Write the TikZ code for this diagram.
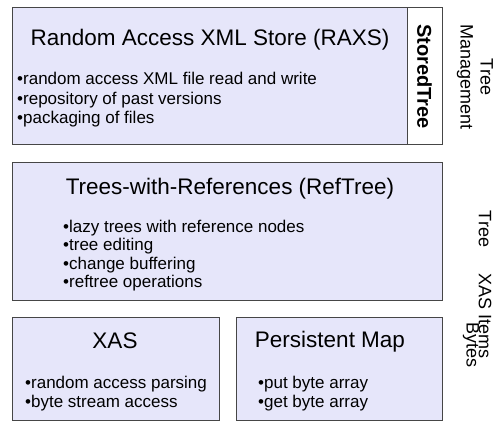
\documentclass[tikz,border=0pt]{standalone}
\usepackage{fontspec}
\setmainfont{Liberation Sans}
\usetikzlibrary{positioning}
\definecolor{layerfill}{RGB}{230,230,250}
\definecolor{layerline}{RGB}{70,70,70}
\tikzstyle{layer} = [rectangle, draw=layerline, fill=layerfill, line width=1pt,
    anchor=north west, inner sep=0pt, outer sep=0pt]
\tikzstyle{strip} = [layer, fill=white]
\tikzstyle{title} = [font=\fontsize{22.5}{26}\selectfont, inner sep=0pt, anchor=base]
% base of a multi-line node is its last line
\tikzstyle{items} = [font=\fontsize{17}{19.5}\selectfont, align=left, inner sep=0pt,
    anchor=base west]
\tikzstyle{side} = [font=\fontsize{18}{20}\selectfont, rotate=-90, align=center,
    inner sep=0pt]

\begin{document}
\begin{tikzpicture}[x=1pt, y=-1pt]
      \useasboundingbox (0,0) rectangle (496,422);
      % layers
      \node [layer, minimum width=395pt, minimum height=137pt] (raxs) at (12,8) {};
      \node [strip, right=0pt of raxs, minimum width=35pt, minimum height=137pt]
         (stored) {};
      \node [layer, minimum width=430pt, minimum height=138pt] (reftree) at (12,163) {};
      \node [layer, minimum width=207pt, minimum height=103pt] (xas) at (12,318) {};
      \node [layer, minimum width=206pt, minimum height=103pt] (pmap) at (236,318) {};

      % texts
      \node [font=\bfseries\fontsize{20}{22}\selectfont, rotate=-90, inner sep=0pt]
         (storedlabel) at (stored.center) {StoredTree};
      \node [title] (raxstitle) at (210,46) {Random Access XML Store (RAXS)};
      \node [items] (raxsitems) at (17,124)
         {•random access XML file read and write\\•repository of past versions\\
          •packaging of files};
      \node [title] (reftitle) at (230,195) {Trees-with-References (RefTree)};
      \node [items, font=\fontsize{17}{18.5}\selectfont] (refitems) at (63,288)
         {•lazy trees with reference nodes\\•tree editing\\•change buffering\\
          •reftree operations};
      \node [title] (xastitle) at (115,349) {XAS};
      \node [items, font=\fontsize{17}{20}\selectfont] (xasitems) at (25,408)
         {•random access parsing\\•byte stream access};
      \node [title] (pmaptitle) at (330,348) {Persistent Map};
      \node [items, font=\fontsize{17}{20}\selectfont] (pmapitems) at (258,408)
         {•put byte array\\•get byte array};

      % interfaces
      \node [side] (mgmtlabel) at (475,77) {Tree\\Management};
      \node [side] (treelabel) at (485,229) {Tree};
      \node [side] (itemslabel) at (485,316) {XAS Items};
      \node [side] (byteslabel) at (471,345) {Bytes};
   \end{tikzpicture}
\end{document}
